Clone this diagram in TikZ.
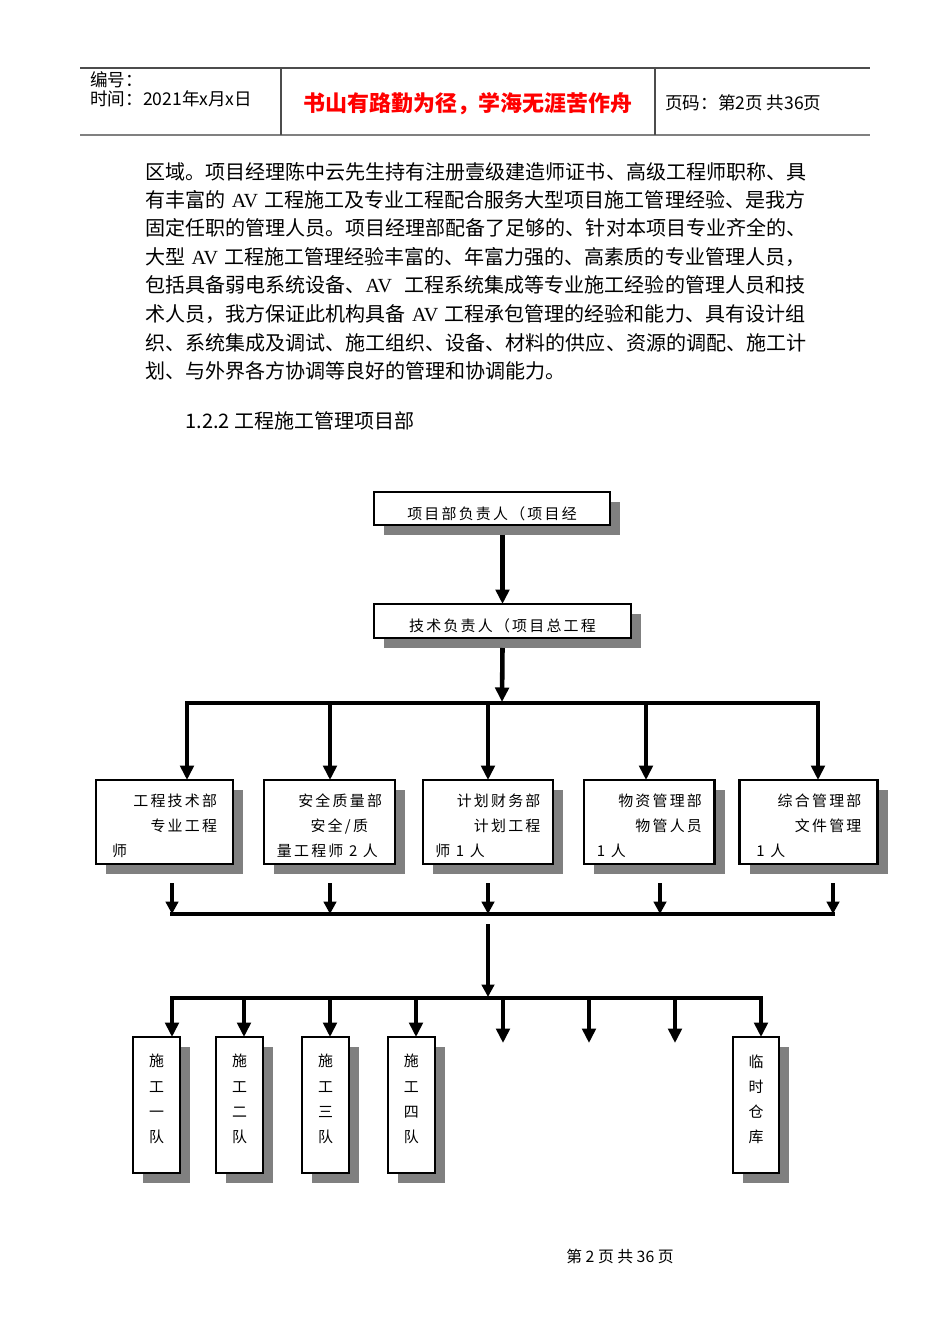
\documentclass[tikz,border=0pt]{standalone}
\usepackage{fontspec}
\setmainfont{Liberation Serif}
\newfontfamily\cjk{Noto Sans CJK SC}
\newfontfamily\cjkbox[LetterSpace=15]{Noto Sans CJK SC}
\newfontfamily\lat{Liberation Serif}
\usepackage{tikz}
\usetikzlibrary{arrows.meta}
\usetikzlibrary{shadows}
\usetikzlibrary{positioning}
\usetikzlibrary{calc}

% text blocks inside the chart boxes
\newcommand\boxline[1]{\raisebox{-0.1cm}[\height][\depth]{#1}}
\newcommand\depttext[1]{\raisebox{-0.08cm}[\height][\depth]{\parbox{2.1cm}{\raggedright #1}}}
\newcommand\teamtext[1]{\raisebox{0.12cm}[\height][\depth]{\parbox{0.6cm}{\centering #1}}}

\begin{document}
\begin{tikzpicture}[x=0.02cm, y=-0.02cm,
    every node/.style={inner sep=0pt},
    orgbox/.style={draw, line width=1.6pt, fill=white, outer sep=0pt,
        font=\cjkbox\fontsize{8.5}{14.3}\selectfont,
        drop shadow={shadow xshift=0.2cm, shadow yshift=-0.2cm, fill=black!50, opacity=1}},
    deptbox/.style={orgbox, minimum height=1.68cm},
    teambox/.style={orgbox, minimum width=0.94cm, minimum height=2.72cm},
    body/.style={anchor=west, font=\cjk\fontsize{11.4}{13}\selectfont},
    head/.style={anchor=west, font=\cjk\fontsize{10}{12}\selectfont},
    link/.style={line width=2.6pt, -{Triangle[width=0.27cm,length=0.29cm]}},
    thinlink/.style={line width=1.9pt, -{Triangle[width=0.25cm,length=0.25cm]}},
    bar/.style={line width=2.6pt, line cap=rect}]
    \useasboundingbox (0,0) rectangle (950,1344);

    % page header
    \draw[black!70, line width=0.6pt] (80,68) -- (870,68);
    \draw[black!50, line width=1.3pt] (80,135) -- (870,135);
    \draw[black!70, line width=0.6pt] (281,68) -- (281,135) (655,68) -- (655,135);
    \node[head] (code) at (90,80) {编号：};
    \node[head] (date) at (90,99) {时间：2021年x月x日};
    \node[font=\cjk\bfseries\fontsize{12.5}{15}\selectfont, text=red] (motto) at (468,104) {书山有路勤为径，学海无涯苦作舟};
    \node[head] (pageno) at (665,103) {页码：第2页 共36页};

    % text
    \node[body] (line1) at (145,172) {\makebox[13.2cm][s]{区域。项目经理陈中云先生持有注册壹级建造师证书、高级工程师职称、具}};
    \node[body] (line2) at (145,200) {\makebox[13.2cm][s]{有丰富的 {\lat AV} 工程施工及专业工程配合服务大型项目施工管理经验、是我方}};
    \node[body] (line3) at (145,228) {\makebox[13.2cm][s]{固定任职的管理人员。项目经理部配备了足够的、针对本项目专业齐全的、}};
    \node[body] (line4) at (145,257) {\makebox[13.2cm][s]{大型 {\lat AV} 工程施工管理经验丰富的、年富力强的、高素质的专业管理人员，}};
    \node[body] (line5) at (145,285) {\makebox[13.2cm][s]{包括具备弱电系统设备、{\lat AV} 工程系统集成等专业施工经验的管理人员和技}};
    \node[body] (line6) at (145,314) {\makebox[13.2cm][s]{术人员，我方保证此机构具备 {\lat AV} 工程承包管理的经验和能力、具有设计组}};
    \node[body] (line7) at (145,343) {\makebox[13.2cm][s]{织、系统集成及调试、施工组织、设备、材料的供应、资源的调配、施工计}};
    \node[body] (line8) at (145,371) {划、与外界各方协调等良好的管理和协调能力。};
    \node[body] (sec) at (185,421) {1.2.2 工程施工管理项目部};

    % chart
    \node[orgbox, minimum width=4.72cm, minimum height=0.66cm] (lead) at (492,508.5) {\boxline{项目部负责人（项目经}};
    \node[orgbox, minimum width=5.14cm, minimum height=0.68cm] (tech) at (502.5,621) {\boxline{技术负责人（项目总工程}};

    \node[deptbox, minimum width=2.74cm] (eng) at (164.5,822) {\depttext{\hspace*{\fill}工程技术部\\\hspace*{\fill}专业工程\\师}};
    \node[deptbox, minimum width=2.62cm, right=0.62cm of eng] (safe) {\depttext{\hspace*{\fill}安全质量部\\\hspace*{\fill}安全/质\hspace{0.28cm}\mbox{}\\量工程师~2~人}};
    \node[deptbox, minimum width=2.6cm, right=0.56cm of safe] (plan) {\depttext{\hspace*{\fill}计划财务部\\\hspace*{\fill}计划工程\\师~1~人}};
    \node[deptbox, minimum width=2.62cm, right=0.62cm of plan] (supply) {\depttext{\hspace*{\fill}物资管理部\\\hspace*{\fill}物管人员\\1~人}};
    \node[deptbox, minimum width=2.76cm, right=0.5cm of supply] (office) {\depttext{\hspace*{\fill}综合管理部\\\hspace*{\fill}文件管理\\1~人}};

    \node[teambox] (team1) at (156.5,1105) {\teamtext{施\\工\\一\\队}};
    \node[teambox, right=0.72cm of team1] (team2) {\teamtext{施\\工\\二\\队}};
    \node[teambox, right=0.78cm of team2] (team3) {\teamtext{施\\工\\三\\队}};
    \node[teambox, right=0.78cm of team3] (team4) {\teamtext{施\\工\\四\\队}};
    \node[teambox, minimum width=0.92cm] (store) at (756,1105) {\teamtext{临\\时\\仓\\库}};

    % trunk and first bar
    \coordinate (hub) at (502,702);
    \coordinate (c1) at (187,703);
    \coordinate (c2) at (330,703);
    \coordinate (c3) at (488,703);
    \coordinate (c4) at (646,703);
    \coordinate (c5) at (818,703);
    \draw[link] ($(lead.south -| tech.north)+(0,10)$) -- (tech.north);
    \draw[link] ($(tech.south)+(0,10)$) -- (hub);
    \draw[bar] (c1) -- (c5);
    \draw[link] (c1) -- (c1 |- eng.north);
    \draw[link] (c2) -- (c2 |- safe.north);
    \draw[link] (c3) -- (c3 |- plan.north);
    \draw[link] (c4) -- (c4 |- supply.north);
    \draw[link] (c5) -- (c5 |- office.north);

    % second bar
    \coordinate (s1) at (172,883);
    \coordinate (s2) at (330,883);
    \coordinate (s3) at (488,883);
    \coordinate (s4) at (660,883);
    \coordinate (s5) at (833,883);
    \coordinate (m1) at (172,914);
    \coordinate (m2) at (330,914);
    \coordinate (m3) at (488,914);
    \coordinate (m4) at (660,914);
    \coordinate (m5) at (833,914);
    \draw[thinlink] (s1) -- (m1);
    \draw[thinlink] (s2) -- (m2);
    \draw[thinlink] (s3) -- (m3);
    \draw[thinlink] (s4) -- (m4);
    \draw[thinlink] (s5) -- (m5);
    \draw[bar] (m1) -- (m5);

    % third bar
    \coordinate (g) at (488,924);
    \coordinate (k0) at (488,997);
    \coordinate (k1) at (172,998);
    \coordinate (k2) at (244,998);
    \coordinate (k3) at (330,998);
    \coordinate (k4) at (416,998);
    \coordinate (k5) at (503,998);
    \coordinate (k6) at (589,998);
    \coordinate (k7) at (675,998);
    \coordinate (k8) at (761,998);
    \coordinate (e5) at (503,1043);
    \coordinate (e6) at (589,1043);
    \coordinate (e7) at (675,1043);
    \draw[thinlink] (g) -- (k0);
    \draw[bar] (k1) -- (k8);
    \draw[link] (k1) -- (k1 |- team1.north);
    \draw[link] (k2) -- (k2 |- team2.north);
    \draw[link] (k3) -- (k3 |- team3.north);
    \draw[link] (k4) -- (k4 |- team4.north);
    \draw[link] (k5) -- (e5);
    \draw[link] (k6) -- (e6);
    \draw[link] (k7) -- (e7);
    \draw[link] (k8) -- (k8 |- store.north);

    % footer
    \node[font=\cjk\fontsize{9}{11}\selectfont] (foot) at (620,1256) {第 2 页 共 36 页};
\end{tikzpicture}
\end{document}
